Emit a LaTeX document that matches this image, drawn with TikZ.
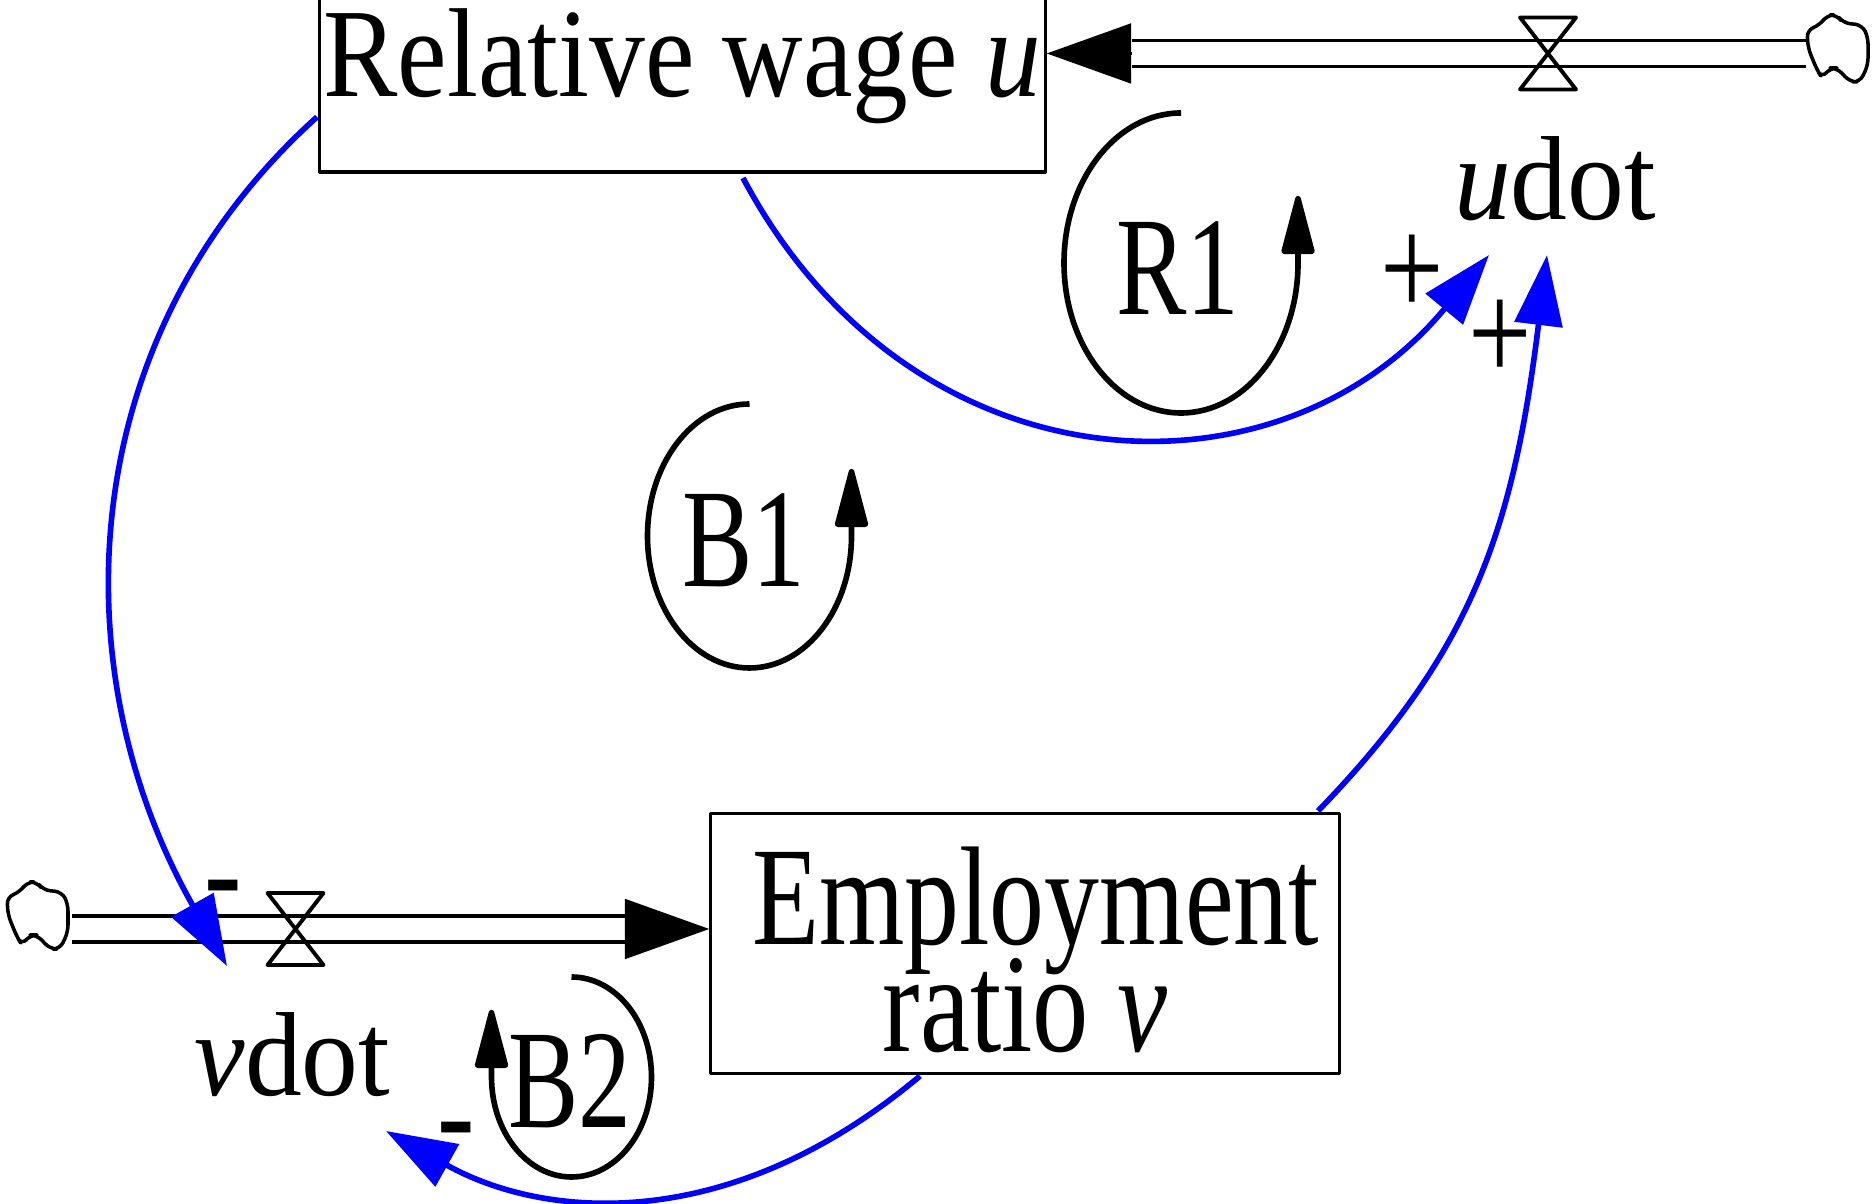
\documentclass[tikz,border=0pt]{standalone}
\usepackage{fontspec}
\setmainfont{Liberation Serif}
\usepackage{graphicx}
\usetikzlibrary{arrows.meta}

\begin{document}
\begin{tikzpicture}[x=0.01cm,y=0.01cm,line join=round,
	stock/.style={draw,line width=0.9pt,inner sep=0pt},
	pipe/.style={double,double distance=6.5pt,line width=1pt},
	flowtip/.style={line width=0.8pt,-{Triangle[length=24pt,width=17pt]}},
	valveline/.style={line width=1.1pt},
	cloudline/.style={line width=1pt,rounded corners=2pt},
	link/.style={blue,line width=1.6pt,-{Triangle[length=20pt,width=13.5pt]}},
	loopline/.style={line width=1.6pt,-{Triangle[length=19pt,width=9.5pt,round]}},
	rate/.style={inner sep=0pt,xscale=0.95,font=\fontsize{34}{34}\selectfont},
	looplabel/.style={inner sep=0pt,xscale=0.75,font=\fontsize{40}{40}\selectfont},
	sign/.style={inner sep=0pt,xscale=0.78,font=\fontsize{41}{41}\selectfont}]
	\useasboundingbox (0,0) rectangle (1874,1204);
	% stocks
	\node[stock,minimum width=7.25cm,minimum height=2.11cm,font=\fontsize{36}{40}\selectfont] (wage) at (682.5,1137.5) {\scalebox{0.88}[1]{Relative wage \textit{u}}};
	\node[stock,minimum width=6.28cm,minimum height=2.6cm,align=center,font={\fontsize{40}{30.5}\selectfont\lineskiplimit=-100pt}] (emp) at (1025,260.5) {\rule{0pt}{31.5pt}\hspace*{6pt}\scalebox{0.78}[1]{Employment}\\\scalebox{0.8}[1]{ratio \textit{v}}};
	% flows
	\path
	(1838,1156) coordinate (ucloud) (1806,1150.5) coordinate (uout)
	(1548,1150.5) coordinate (uvalve) (1132,1150.5) coordinate (uhead)
	(wage.east |- uhead) coordinate (utip)
	(38,289) coordinate (vcloud) (72,275) coordinate (vout)
	(295.5,275) coordinate (vvalve) (628,275) coordinate (vhead)
	(emp.west |- vhead) coordinate (vtip)
	;
	\draw[pipe] (uout)--(uhead);
	\draw[flowtip] (uhead)--(utip);
	\draw[pipe] (vout)--(vhead);
	\draw[flowtip] (vhead)--(vtip);
	\foreach \v in {uvalve,vvalve}
	\draw[valveline] (\v) +(-28,36)--+(28,36)--+(-28,-36)--+(28,-36)--cycle;
	\foreach \c in {ucloud,vcloud}
	\draw[cloudline] (\c) +(-31,18)--+(-18,23)--+(-11,33)--+(-1,33)--+(5,25)--+(24,23)--+(30,11)--+(30,-17)--+(22,-34)--+(12,-34)--+(-1,-20)--+(-8,-20)--+(-16,-30)--+(-21,-22)--+(-30,0)--cycle;
	\node[rate] (udot) at (1555,1025) {\textit{u}dot};
	\node[rate] (vdot) at (292.5,149) {\textit{v}dot};
	% links
	\path
	(317,1087) coordinate (w1) (743,1026) coordinate (w2)
	(1318,393) coordinate (e1) (920,128) coordinate (e2)
	(227,238) coordinate (vin1) (386,73) coordinate (vin2)
	(1489,949) coordinate (uin1) (1547,949) coordinate (uin2)
	;
	\draw[link] (w1) .. controls +(-138:330) and +(119.5:340) .. (vin1);
	\draw[link] (w2) .. controls +(-62:360) and +(-129.6:330) .. (uin1);
	\draw[link] (e1) .. controls +(46:220) and +(-97:280) .. (uin2);
	\draw[link] (e2) .. controls +(-140:250) and +(-29.3:180) .. (vin2);
	\foreach \s/\x/\y [count=\i] in {+/1412/928,+/1500/863,-/223/304,-/456/62}
	\node[sign] (sign\i) at (\x,\y) {\s};
	% loops
	\path (1181,941) coordinate (R1) (749.5,668) coordinate (B1) (571.5,127) coordinate (B2);
	\foreach \l/\rx/\ry/\e in {R1/117/150/360,B1/102/132/360,B2/80/100/-180}
	\draw[loopline] (\l) ++(0,\ry) arc[start angle=90,end angle=\e,x radius=\rx,y radius=\ry]--++(0,67);
	\foreach \l/\x/\y in {R1/1178/936,B1/744/664,B2/570/123}
	\node[looplabel] (lab\l) at (\x,\y) {\l};
\end{tikzpicture}
\end{document}
